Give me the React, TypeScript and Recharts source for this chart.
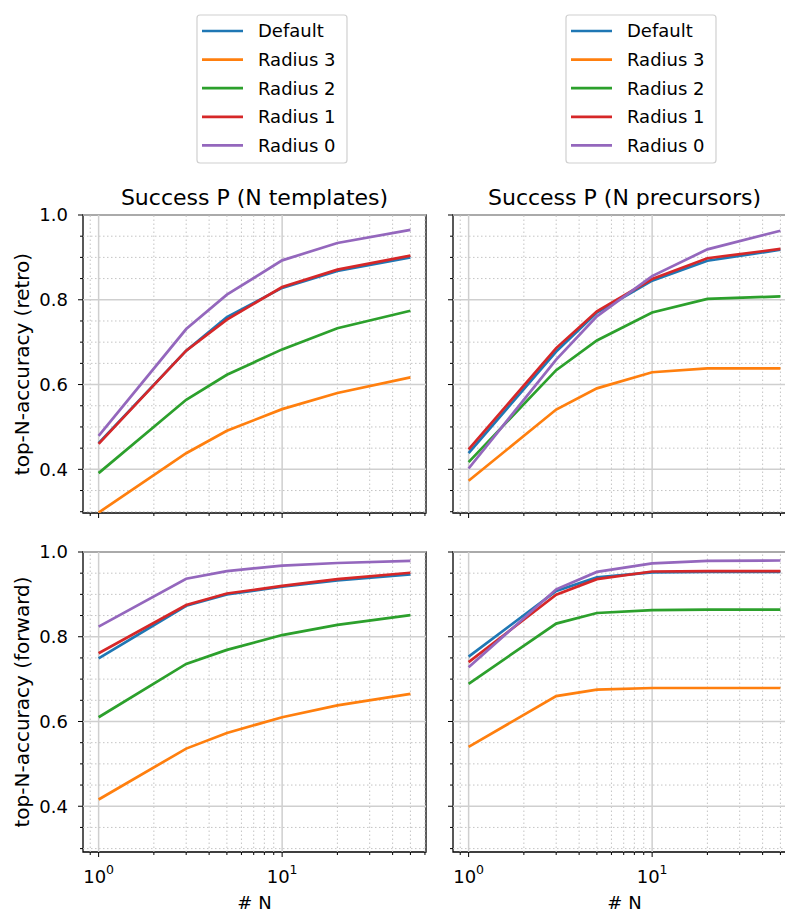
import React from 'react';
import { LineChart, Line, XAxis, YAxis, ReferenceLine, ReferenceArea } from 'recharts';

const FONT = '"DejaVu Sans", Verdana, sans-serif';

const N_VALUES = [1, 3, 5, 10, 20, 50];
const SERIES_NAMES = ['Default', 'Radius 3', 'Radius 2', 'Radius 1', 'Radius 0'];
const SERIES_COLORS = ['#1f77b4', '#ff7f0e', '#2ca02c', '#d62728', '#9467bd'];

// retro — N templates
const retroTplDefault = [0.462, 0.680, 0.759, 0.828, 0.868, 0.900];
const retroTplR3 = [0.298, 0.438, 0.491, 0.542, 0.580, 0.617];
const retroTplR2 = [0.391, 0.564, 0.623, 0.683, 0.733, 0.774];
const retroTplR1 = [0.460, 0.680, 0.753, 0.830, 0.871, 0.904];
const retroTplR0 = [0.479, 0.731, 0.812, 0.893, 0.934, 0.965];
// retro — N precursors
const retroPreDefault = [0.438, 0.678, 0.770, 0.845, 0.892, 0.918];
const retroPreR3 = [0.373, 0.541, 0.591, 0.629, 0.638, 0.638];
const retroPreR2 = [0.417, 0.634, 0.704, 0.770, 0.802, 0.808];
const retroPreR1 = [0.447, 0.686, 0.773, 0.849, 0.898, 0.920];
const retroPreR0 = [0.402, 0.659, 0.761, 0.856, 0.919, 0.963];
// forward — N templates
const fwdTplDefault = [0.749, 0.873, 0.900, 0.918, 0.933, 0.947];
const fwdTplR3 = [0.416, 0.536, 0.573, 0.610, 0.638, 0.665];
const fwdTplR2 = [0.610, 0.736, 0.769, 0.804, 0.828, 0.851];
const fwdTplR1 = [0.761, 0.875, 0.902, 0.920, 0.936, 0.951];
const fwdTplR0 = [0.824, 0.937, 0.955, 0.968, 0.974, 0.979];
// forward — N precursors
const fwdPreDefault = [0.753, 0.908, 0.940, 0.952, 0.953, 0.953];
const fwdPreR3 = [0.540, 0.660, 0.675, 0.679, 0.679, 0.679];
const fwdPreR2 = [0.689, 0.831, 0.856, 0.863, 0.864, 0.864];
const fwdPreR1 = [0.740, 0.899, 0.936, 0.954, 0.955, 0.955];
const fwdPreR0 = [0.728, 0.912, 0.953, 0.973, 0.979, 0.980];

const TITLES = ['Success P (N templates)', 'Success P (N precursors)'];
const Y_LABELS = ['top-N-accuracy (retro)', 'top-N-accuracy (forward)'];
const X_LABEL = '# N';

const X_DOMAIN = [0.822, 60.8];
const X_MAJOR = [1, 10];
const X_MINOR = [0.9, 2, 3, 4, 5, 6, 7, 8, 9, 20, 30, 40, 50, 60];
const X_TICKS = [0.9, 1, 2, 3, 4, 5, 6, 7, 8, 9, 10, 20, 30, 40, 50, 60];

const Y_DOMAIN_TOP = [0.297, 1.0];
const Y_DOMAIN_BOTTOM = [0.292, 1.0];
const Y_MAJOR = [0.4, 0.6, 0.8, 1.0];
const Y_MINOR = [0.3, 0.35, 0.45, 0.5, 0.55, 0.65, 0.7, 0.75, 0.85, 0.9, 0.95];
const Y_TICKS = [0.3, 0.35, 0.4, 0.45, 0.5, 0.55, 0.6, 0.65, 0.7, 0.75, 0.8, 0.85, 0.9, 0.95, 1.0];

const isIn = (arr: number[], v: number) => arr.some((m) => Math.abs(m - v) < 1e-9);

const buildRows = (series: number[][]) =>
  N_VALUES.map((n, i) => {
    const row: any = { n };
    series.forEach((s, k) => {
      row['s' + k] = s[i];
    });
    return row;
  });

const XTick = (props: any) => {
  const { x, y, payload, showLabel } = props;
  const v = payload.value;
  const major = isIn(X_MAJOR, v);
  const len = major ? 5 : 3;
  return (
    <g>
      <line x1={x} x2={x} y1={y} y2={y + len} stroke="#000" strokeWidth={1} />
      {major && showLabel ? (
        <text x={x} y={y + 31} textAnchor="middle" fontSize={18} fill="#000" fontFamily={FONT}>
          10
          <tspan dy={-9} fontSize={12.5}>
            {Math.round(Math.log10(v))}
          </tspan>
        </text>
      ) : null}
    </g>
  );
};

const YTick = (props: any) => {
  const { x, y, payload, showLabel } = props;
  const v = payload.value;
  const major = isIn(Y_MAJOR, v);
  const len = major ? 5 : 3;
  return (
    <g>
      <line x1={x - len} x2={x} y1={y} y2={y} stroke="#000" strokeWidth={1} />
      {major && showLabel ? (
        <text x={x - 15} y={y} dy="0.35em" textAnchor="end" fontSize={18} fill="#000" fontFamily={FONT}>
          {v.toFixed(1)}
        </text>
      ) : null}
    </g>
  );
};

type PanelProps = {
  series: number[][];
  left: number;
  top: number;
  yAxisWidth: number;
  plotHeight: number;
  xAxisHeight: number;
  yDomain: number[];
  showYLabels: boolean;
  showXLabels: boolean;
  yLabel?: string;
  xLabel?: string;
};

const PLOT_WIDTH = 343;
const MARGIN_TOP = 10;
const MARGIN_RIGHT = 6;

const Panel = ({ series, left, top, yAxisWidth, plotHeight, xAxisHeight, yDomain, showYLabels, showXLabels, yLabel, xLabel }: PanelProps) => {
  const data = buildRows(series);
  const width = yAxisWidth + PLOT_WIDTH + MARGIN_RIGHT;
  const height = MARGIN_TOP + plotHeight + xAxisHeight;
  return (
    <div style={{ position: 'absolute', left, top }}>
      <LineChart width={width} height={height} data={data} margin={{ top: MARGIN_TOP, right: MARGIN_RIGHT, left: 0, bottom: 0 }}>
        <XAxis
          dataKey="n"
          type="number"
          scale="log"
          domain={X_DOMAIN}
          allowDataOverflow
          ticks={X_TICKS}
          interval={0}
          tickSize={0}
          tickMargin={0}
          axisLine={false}
          tickLine={false}
          height={xAxisHeight}
          tick={<XTick showLabel={showXLabels} />}
          label={
            xLabel
              ? {
                  content: (p: any) => {
                    const vb = p.viewBox || {};
                    return (
                      <text x={vb.x + vb.width / 2} y={vb.y + 57} textAnchor="middle" fontSize={18} fill="#000" fontFamily={FONT}>
                        {xLabel}
                      </text>
                    );
                  },
                }
              : undefined
          }
        />
        <YAxis
          type="number"
          domain={yDomain}
          allowDataOverflow
          ticks={Y_TICKS}
          interval={0}
          tickSize={0}
          tickMargin={0}
          axisLine={false}
          tickLine={false}
          width={yAxisWidth}
          tick={<YTick showLabel={showYLabels} />}
          label={
            yLabel
              ? {
                  content: (p: any) => {
                    const vb = p.viewBox || {};
                    const cx = vb.x + 22;
                    const cy = vb.y + vb.height / 2;
                    return (
                      <text
                        x={cx}
                        y={cy}
                        dy="0.35em"
                        textAnchor="middle"
                        transform={`rotate(-90, ${cx}, ${cy})`}
                        fontSize={20}
                        fill="#000"
                        fontFamily={FONT}
                      >
                        {yLabel}
                      </text>
                    );
                  },
                }
              : undefined
          }
        />
        {X_MINOR.map((v) => (
          <ReferenceLine key={'xm' + v} x={v} stroke="#c4c4c4" strokeWidth={1} strokeDasharray="1.5 2.5" ifOverflow="visible" />
        ))}
        {Y_MINOR.map((v) => (
          <ReferenceLine key={'ym' + v} y={v} stroke="#c4c4c4" strokeWidth={1} strokeDasharray="1.5 2.5" ifOverflow="visible" />
        ))}
        {X_MAJOR.map((v) => (
          <ReferenceLine key={'xM' + v} x={v} stroke="#cfcfcf" strokeWidth={1.5} ifOverflow="visible" />
        ))}
        {Y_MAJOR.map((v) => (
          <ReferenceLine key={'yM' + v} y={v} stroke="#cfcfcf" strokeWidth={1.5} ifOverflow="visible" />
        ))}
        {series.map((_, k) => (
          <Line
            key={'s' + k}
            dataKey={'s' + k}
            name={SERIES_NAMES[k]}
            type="linear"
            stroke={SERIES_COLORS[k]}
            strokeWidth={2.7}
            dot={false}
            activeDot={false}
            isAnimationActive={false}
          />
        ))}
        <ReferenceArea
          x1={X_DOMAIN[0]}
          x2={X_DOMAIN[1]}
          y1={yDomain[0]}
          y2={yDomain[1]}
          fill="none"
          fillOpacity={0}
          stroke="#000"
          strokeWidth={1.3}
          ifOverflow="visible"
        />
      </LineChart>
    </div>
  );
};

const LegendBox = ({ x, y }: { x: number; y: number }) => (
  <g>
    <rect x={x} y={y} width={150} height={148} rx={3} ry={3} fill="#fff" stroke="#d0d0d0" strokeWidth={1.2} />
    {SERIES_NAMES.map((name, i) => {
      const cy = y + 16 + i * 28.6;
      return (
        <g key={name}>
          <line x1={x + 5} x2={x + 46} y1={cy} y2={cy} stroke={SERIES_COLORS[i]} strokeWidth={2.7} />
          <text x={x + 61} y={cy} dy="0.35em" fontSize={18} fill="#000" fontFamily={FONT}>
            {name}
          </text>
        </g>
      );
    })}
  </g>
);

export default function App() {
  return (
    <div style={{ position: 'absolute', left: 0, top: 0, width: 785, height: 913, overflow: 'hidden', background: '#fff', fontFamily: FONT }}>
      <svg width={785} height={215} style={{ position: 'absolute', left: 0, top: 0 }}>
        <LegendBox x={197} y={15} />
        <LegendBox x={566} y={15} />
        <text x={254.5} y={205} textAnchor="middle" fontSize={22} fill="#000" fontFamily={FONT}>
          {TITLES[0]}
        </text>
        <text x={624.5} y={205} textAnchor="middle" fontSize={22} fill="#000" fontFamily={FONT}>
          {TITLES[1]}
        </text>
      </svg>
      <Panel
        series={[retroTplDefault, retroTplR3, retroTplR2, retroTplR1, retroTplR0]}
        left={0}
        top={205}
        yAxisWidth={83}
        plotHeight={298}
        xAxisHeight={12}
        yDomain={Y_DOMAIN_TOP}
        showYLabels
        showXLabels={false}
        yLabel={Y_LABELS[0]}
      />
      <Panel
        series={[retroPreDefault, retroPreR3, retroPreR2, retroPreR1, retroPreR0]}
        left={443}
        top={205}
        yAxisWidth={10}
        plotHeight={298}
        xAxisHeight={12}
        yDomain={Y_DOMAIN_TOP}
        showYLabels={false}
        showXLabels={false}
      />
      <Panel
        series={[fwdTplDefault, fwdTplR3, fwdTplR2, fwdTplR1, fwdTplR0]}
        left={0}
        top={542}
        yAxisWidth={83}
        plotHeight={300}
        xAxisHeight={60}
        yDomain={Y_DOMAIN_BOTTOM}
        showYLabels
        showXLabels
        yLabel={Y_LABELS[1]}
        xLabel={X_LABEL}
      />
      <Panel
        series={[fwdPreDefault, fwdPreR3, fwdPreR2, fwdPreR1, fwdPreR0]}
        left={443}
        top={542}
        yAxisWidth={10}
        plotHeight={300}
        xAxisHeight={60}
        yDomain={Y_DOMAIN_BOTTOM}
        showYLabels={false}
        showXLabels
        xLabel={X_LABEL}
      />
    </div>
  );
}
